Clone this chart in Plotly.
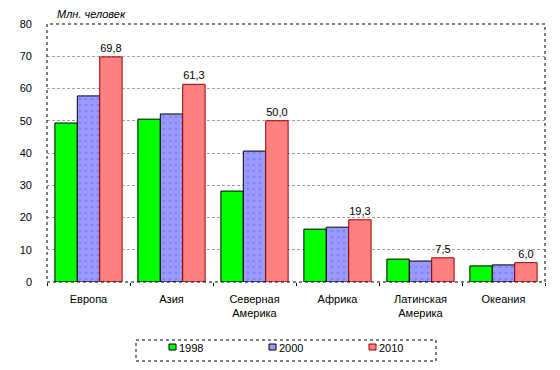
import plotly.graph_objects as go

categories = ["Европа", "Азия", "Северная<br>Америка", "Африка", "Латинская<br>Америка", "Океания"]
years = ["1998", "2000", "2010"]
v1998 = [49.3, 50.5, 28.2, 16.4, 7.1, 5.0]
v2000 = [57.7, 52.1, 40.6, 17.0, 6.5, 5.3]
v2010 = [69.8, 61.3, 50.0, 19.3, 7.5, 6.0]
y_ticks = [0, 10, 20, 30, 40, 50, 60, 70, 80]
y_title = "Млн. человек"

FONT = "Liberation Sans"
colors = ["#00FF00", "#9999FF", "#FF8080"]
edges = ["#000000", "#000000", "#990000"]

W, H = 560, 370
ML, MR, MT, MB = 47, 15, 24, 88
PW, PH = W - ML - MR, H - MT - MB


def px(xp):
    return (xp - ML) / PW


def py(yp):
    return (H - MB - yp) / PH


fig = go.Figure()
fig.add_bar(x=categories, y=v1998, name=years[0],
            marker=dict(color=colors[0], line=dict(color=edges[0], width=1)))
fig.add_bar(x=categories, y=v2000, name=years[1],
            marker=dict(color=colors[1], line=dict(color=edges[1], width=1),
                        pattern=dict(shape=".", fgcolor="#6666FF", bgcolor="#9999FF", size=6, solidity=0.15)))
fig.add_bar(x=categories, y=v2010, name=years[2],
            marker=dict(color=colors[2], line=dict(color=edges[2], width=1)),
            text=[f"{v:.1f}".replace(".", ",") for v in v2010],
            textposition="outside", cliponaxis=False,
            textfont=dict(family=FONT, size=11, color="#000000"))

shapes = [
    dict(type="rect", xref="paper", yref="paper", x0=0, x1=1, y0=0, y1=1,
         line=dict(color="#000000", width=1, dash="dot"), layer="above"),
    dict(type="rect", xref="paper", yref="paper", x0=px(136), x1=px(436), y0=py(340), y1=py(361),
         line=dict(color="#000000", width=1, dash="dot")),
]
annotations = [dict(text=f"<i>{y_title}</i>", xref="paper", yref="paper", x=px(55), y=py(14),
                    xanchor="left", yanchor="middle", showarrow=False,
                    font=dict(family=FONT, size=11))]
for i, (name, c, e) in enumerate(zip(years, colors, edges)):
    x0 = 169 + 100 * i
    shapes.append(dict(type="rect", xref="paper", yref="paper", x0=px(x0), x1=px(x0 + 7),
                       y0=py(344), y1=py(350), fillcolor=c, line=dict(color=e, width=1)))
    annotations.append(dict(text=name, xref="paper", yref="paper", x=px(x0 + 8), y=py(347.5),
                            xanchor="left", yanchor="middle", showarrow=False,
                            font=dict(family=FONT, size=11)))

fig.update_layout(
    width=W, height=H,
    margin=dict(l=ML, r=MR, t=MT, b=MB, autoexpand=False),
    paper_bgcolor="#FFFFFF", plot_bgcolor="#FFFFFF",
    barmode="group", bargap=0.19, bargroupgap=0.0,
    font=dict(family=FONT, size=11, color="#000000"),
    showlegend=False,
    xaxis=dict(type="category", tickson="boundaries", ticks="outside", ticklen=3,
               tickcolor="#000000", showline=False, showgrid=False, automargin=False,
               ticklabelstandoff=9, tickfont=dict(family=FONT, size=11)),
    yaxis=dict(range=[0, 80], tickvals=y_ticks, showgrid=True, gridcolor="#A0A0A0",
               griddash="3px,2px", gridwidth=1, zeroline=False, showline=False, automargin=False,
               ticks="", ticklabelstandoff=14, tickfont=dict(family=FONT, size=11)),
    shapes=shapes,
    annotations=annotations,
)
fig.write_html("out.html", config={"displayModeBar": False},
               post_script="document.body.style.margin='0';")
